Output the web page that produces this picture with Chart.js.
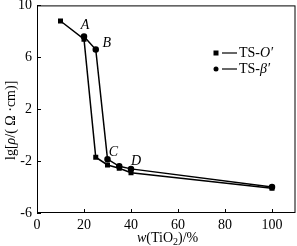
<!DOCTYPE html>
<html>
<head>
<meta charset="utf-8">
<script src="https://cdn.jsdelivr.net/npm/chart.js@4"></script>
<style>
  html, body { margin: 0; padding: 0; background: #fff; overflow: hidden; }
  #wrap { width: 297px; height: 246px; overflow: hidden; position: relative; }
  #chart { position: absolute; left: 0; top: -8px; }
</style>
</head>
<body>
<div id="wrap"><canvas id="chart"></canvas></div>
<script>
// data
const tsO_x = [10, 20, 25, 30, 35, 40, 100];
const tsO_y = [8.8, 7.4, -1.7, -2.3, -2.55, -2.9, -4.1];
const tsB_x = [20, 25, 30, 35, 40, 100];
const tsB_y = [7.6, 6.6, -1.85, -2.4, -2.6, -4.0];
const xTicks = [0, 20, 40, 60, 80, 100];
const yTicks = [-6, -2, 2, 6, 10];
const pointLabels = [
    { text: 'A', x: 20, y: 7.6, dx: 1, dy: -11 },
    { text: 'B', x: 25, y: 6.6, dx: 11, dy: -6 },
    { text: 'C', x: 30, y: -1.85, dx: 6, dy: -7 },
    { text: 'D', x: 40, y: -2.6, dx: 5, dy: -8 }
];

const SERIF = '"Liberation Serif", "DejaVu Serif", serif';
const OFF = 8; // canvas is shifted up by this much

const toPoints = (xs, ys) => xs.map((x, i) => ({ x: x, y: ys[i] }));

// frame, inner ticks, axis titles, point letters, legend
const decorPlugin = {
    id: 'decor',
    afterDraw(chart) {
        const ctx = chart.ctx;
        const area = chart.chartArea;
        const xs = chart.scales.x;
        const ys = chart.scales.y;
        ctx.save();
        ctx.strokeStyle = '#000';
        ctx.lineWidth = 1;
        ctx.strokeRect(area.left + 0.5, area.top + 0.5, area.right - area.left - 1, area.bottom - area.top - 1);

        xTicks.forEach(v => {
            const px = Math.round(xs.getPixelForValue(v)) + 0.5;
            ctx.beginPath();
            ctx.moveTo(px, area.bottom);
            ctx.lineTo(px, area.bottom - 4);
            ctx.stroke();
        });
        yTicks.forEach(v => {
            const py = Math.round(ys.getPixelForValue(v)) + 0.5;
            ctx.beginPath();
            ctx.moveTo(area.left, py);
            ctx.lineTo(area.left + 4, py);
            ctx.stroke();
        });

        ctx.fillStyle = '#000';
        ctx.textBaseline = 'middle';

        // point letters
        ctx.font = 'italic 14px ' + SERIF;
        ctx.textAlign = 'center';
        pointLabels.forEach(p => {
            ctx.fillText(p.text, xs.getPixelForValue(p.x) + p.dx, ys.getPixelForValue(p.y) + p.dy);
        });

        // x title: w(TiO2)/%
        const tx = 137, ty = 238 + OFF;
        ctx.textAlign = 'left';
        let cx = tx;
        const part = (txt, font, dy) => {
            ctx.font = font;
            ctx.fillText(txt, cx, ty + (dy || 0));
            cx += ctx.measureText(txt).width;
        };
        part('w', 'italic 14px ' + SERIF);
        part('(TiO', '14px ' + SERIF);
        part('2', '10px ' + SERIF, 4);
        part(')/%', '14px ' + SERIF);

        // y title: lg[ρ/(Ω·cm)]
        ctx.save();
        ctx.translate(11, 160 + OFF);
        ctx.rotate(-Math.PI / 2);
        let cy = 0;
        const rpart = (txt, font) => {
            ctx.font = font;
            ctx.fillText(txt, cy, 0);
            cy += ctx.measureText(txt).width;
        };
        rpart('lg[', '14px ' + SERIF);
        rpart('ρ', 'italic 14px ' + SERIF);
        rpart('/( Ω ·cm)]', '14px ' + SERIF);
        ctx.restore();

        // legend
        const items = [
            { y: 53 + OFF, style: 'rect', text: 'O' },
            { y: 69 + OFF, style: 'circle', text: 'β' }
        ];
        items.forEach(it => {
            if (it.style === 'rect') {
                ctx.fillRect(213.5, it.y - 2.5, 5, 5);
            } else {
                ctx.beginPath();
                ctx.arc(216, it.y, 2.5, 0, Math.PI * 2);
                ctx.fill();
            }
            ctx.lineWidth = 1.2;
            ctx.beginPath();
            ctx.moveTo(222, it.y);
            ctx.lineTo(237, it.y);
            ctx.stroke();
            let lx = 239;
            ctx.font = '14px ' + SERIF;
            ctx.fillText('TS-', lx, it.y);
            lx += ctx.measureText('TS-').width;
            ctx.font = 'italic 14px ' + SERIF;
            ctx.fillText(it.text + '′', lx, it.y);
        });
        ctx.restore();
    }
};

const setupChart = () => {
    const canvas = document.getElementById('chart').getContext('2d');
    return new Chart(canvas, {
        type: 'scatter',
        data: {
            datasets: [{
                label: "TS-O'",
                data: toPoints(tsO_x, tsO_y),
                showLine: true,
                borderColor: '#000',
                backgroundColor: '#000',
                borderWidth: 1.5,
                pointStyle: 'rect',
                pointRadius: 2.5,
                tension: 0
            }, {
                label: "TS-β'",
                data: toPoints(tsB_x, tsB_y),
                showLine: true,
                borderColor: '#000',
                backgroundColor: '#000',
                borderWidth: 1.5,
                pointStyle: 'circle',
                pointRadius: 2.5,
                tension: 0
            }]
        },
        options: {
            responsive: false,
            animation: false,
            layout: { padding: { top: 4, right: 1, bottom: 0, left: 0 } },
            plugins: { legend: { display: false }, tooltip: { enabled: false } },
            scales: {
                x: {
                    type: 'linear',
                    min: 0,
                    max: 110,
                    afterBuildTicks: axis => { axis.ticks = xTicks.map(v => ({ value: v })); },
                    afterFit: axis => { axis.height = 33; },
                    grid: { display: false, drawTicks: false },
                    border: { display: false },
                    ticks: { color: '#000', padding: 4, font: { family: SERIF, size: 14 } }
                },
                y: {
                    min: -6,
                    max: 10,
                    afterBuildTicks: axis => { axis.ticks = yTicks.map(v => ({ value: v })); },
                    afterFit: axis => { axis.width = 37; },
                    grid: { display: false, drawTicks: false },
                    border: { display: false },
                    ticks: { color: '#000', padding: 5, font: { family: SERIF, size: 14 } }
                }
            }
        },
        plugins: [decorPlugin]
    });
};

const main = () => {
    const c = document.getElementById('chart');
    c.width = 301;
    c.height = 254;
    setupChart();
};

main();
</script>
</body>
</html>
